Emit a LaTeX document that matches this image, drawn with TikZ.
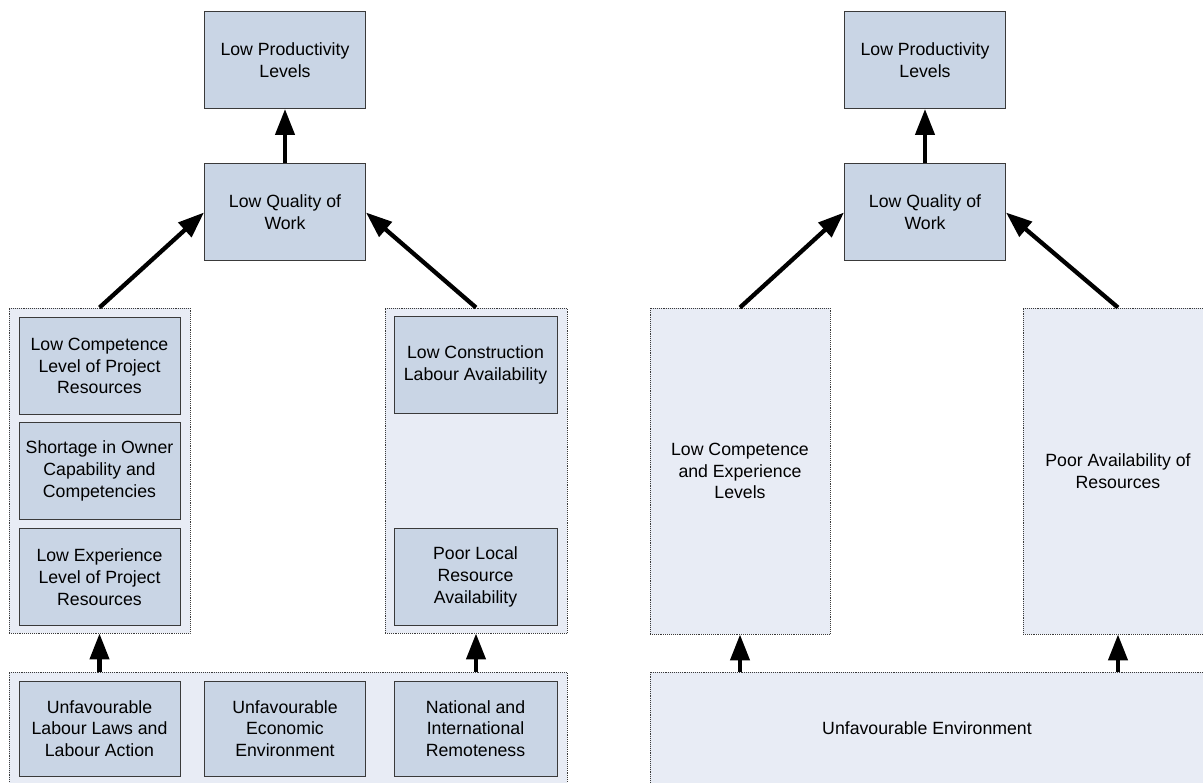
\documentclass[tikz,border=0pt]{standalone}
\usepackage{fontspec}
\setmainfont{Liberation Sans}
\usetikzlibrary{arrows.meta}
\definecolor{lqBox}{HTML}{C9D5E5}
\definecolor{lqPale}{HTML}{E8ECF5}
\definecolor{lqEdge}{HTML}{3A3A3A}
\tikzset{
  lq factor/.style={draw=lqEdge, fill=lqBox, line width=1pt, align=center, inner sep=2pt, font=\fontsize{17.7}{21.7}\selectfont, minimum width=161pt, minimum height=97pt},
  lq group/.style={draw=lqEdge, fill=lqPale, densely dotted, line width=0.9pt, align=center, inner sep=2pt, font=\fontsize{17.7}{21.7}\selectfont},
  lq arrow/.style={draw=black, line width=4.3pt, -{Triangle[length=26pt,width=19pt]}},
}
\begin{document}
\begin{tikzpicture}[x=1pt,y=-1pt]
\useasboundingbox(0,0)rectangle(1203,783);
\clip(0,0)rectangle(1203,783);
% left: detailed causes
\node[lq factor](lpl)at(285,60){Low Productivity\\Levels};
\node[lq factor](lqw)at(285,212.5){Low Quality of\\Work};
\node[lq group,minimum width=181pt,minimum height=325pt](lgrp)at(99.5,470.5){};
\node[lq group,minimum width=182pt,minimum height=325pt](rgrp)at(476,470.5){};
\node[lq group,minimum width=558pt,minimum height=120pt](bgrp)at(288,732){};
\node[lq factor](compet)at(99.5,366){Low Competence\\Level of Project\\Resources};
\node[lq factor](owner)at(99.5,471){Shortage in Owner\\Capability and\\Competencies};
\node[lq factor](exper)at(99.5,577){Low Experience\\Level of Project\\Resources};
\node[lq factor,minimum width=163pt](labour)at(475.5,365){Low Construction\\Labour Availability};
\node[lq factor,minimum width=163pt](local)at(475.5,577){Poor Local\\Resource\\Availability};
\node[lq factor,minimum height=95pt](laws)at(99.5,728.5){Unfavourable\\Labour Laws and\\Labour Action};
\node[lq factor,minimum height=95pt](econ)at(285,728.5){Unfavourable\\Economic\\Environment};
\node[lq factor,minimum width=163pt,minimum height=95pt](remote)at(475.5,728.5){National and\\International\\Remoteness};
\draw[lq arrow](lqw)--(lpl);
\draw[lq arrow](lgrp.north)--(lqw.west);
\draw[lq arrow](rgrp.north)--(lqw.east);
\draw[lq arrow](lgrp.south|-bgrp.north)--(lgrp.south);
\draw[lq arrow](rgrp.south|-bgrp.north)--(rgrp.south);
% right: grouped causes
\node[lq factor](lpl2)at(925,60){Low Productivity\\Levels};
\node[lq factor](lqw2)at(925,212.5){Low Quality of\\Work};
\node[lq group,minimum width=180pt,minimum height=326pt](compexp)at(740,471){Low Competence\\and Experience\\Levels};
\node[lq group,minimum width=190pt,minimum height=326pt](avail)at(1118,471){Poor Availability of\\Resources};
\node[lq group,minimum width=554pt,minimum height=112pt](envir)at(927,728){Unfavourable Environment};
\draw[lq arrow](lqw2)--(lpl2);
\draw[lq arrow](compexp.north)--(lqw2.west);
\draw[lq arrow](avail.north)--(lqw2.east);
\draw[lq arrow](compexp.south|-envir.north)--(compexp.south);
\draw[lq arrow](avail.south|-envir.north)--(avail.south);
\end{tikzpicture}
\end{document}
